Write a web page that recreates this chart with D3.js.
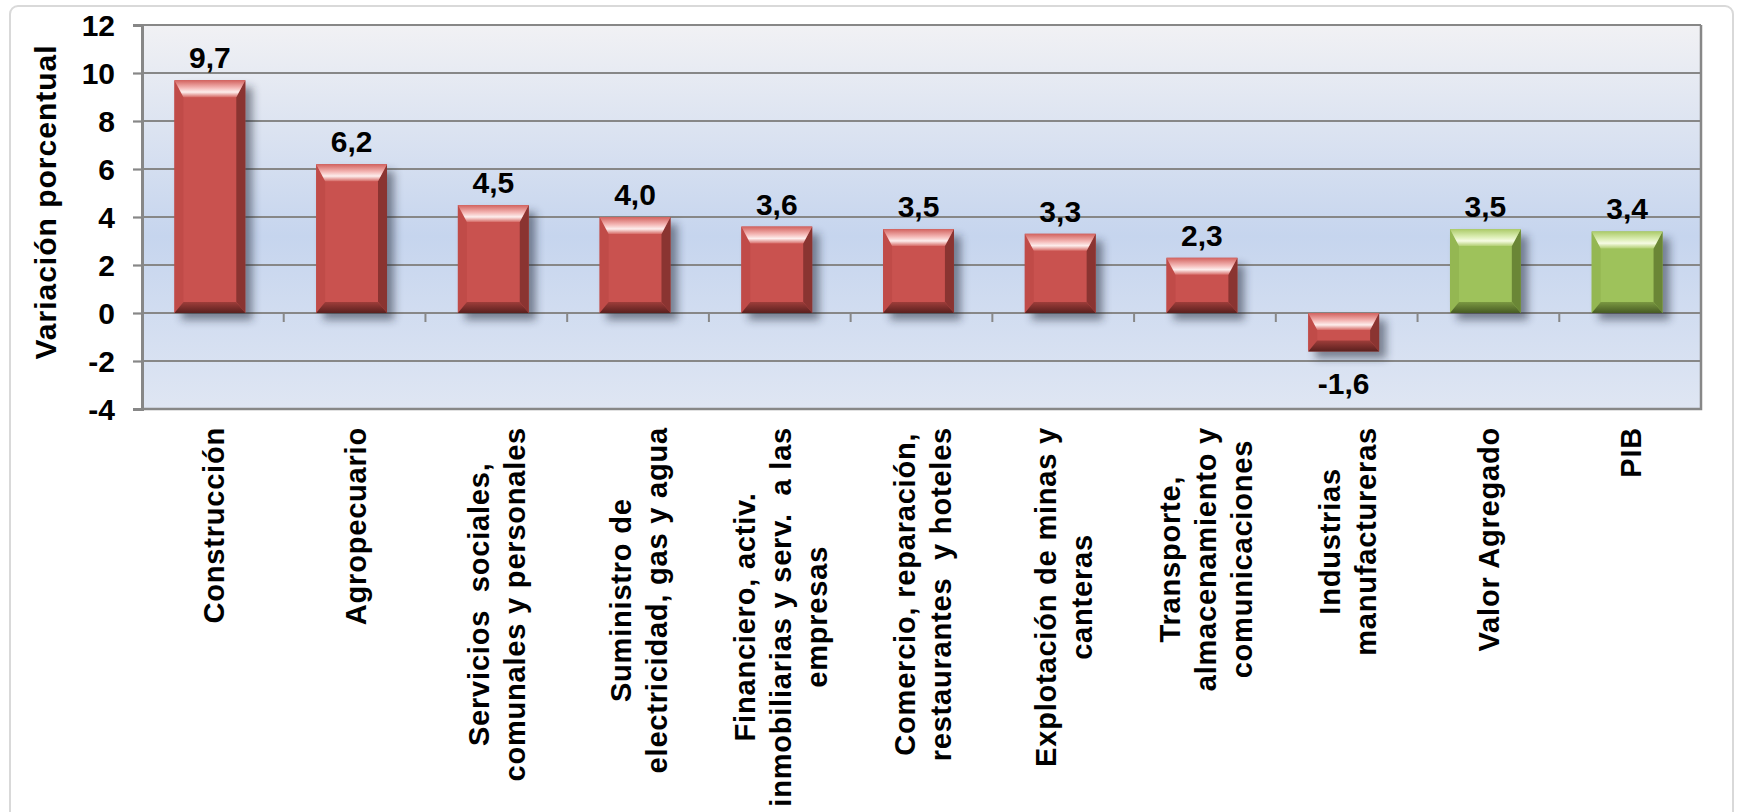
<!DOCTYPE html>
<html>
<head>
<meta charset="utf-8">
<script src="https://cdn.jsdelivr.net/npm/d3@7"></script>
<style>
  html, body { margin: 0; padding: 0; background: #fff; }
  svg { display: block; font-family: "Liberation Sans", Arial, sans-serif; }
</style>
</head>
<body>
<div id="chart"></div>
<script>
const categories = [
  'Construcción', 'Agropecuario', 'Servicios', 'Suministro', 'Financiero',
  'Comercio', 'Explotación', 'Transporte', 'Industrias', 'Valor Agregado', 'PIB'
];

const labelLines = [
  ['Construcción'],
  ['Agropecuario'],
  ['Servicios  sociales,', 'comunales y personales'],
  ['Suministro de', 'electricidad, gas y agua'],
  ['Financiero, activ.', 'inmobiliarias y serv.  a las', 'empresas'],
  ['Comercio, reparación,', 'restaurantes  y hoteles'],
  ['Explotación de minas y', 'canteras'],
  ['Transporte,', 'almacenamiento y', 'comunicaciones'],
  ['Industrias', 'manufactureras'],
  ['Valor Agregado'],
  ['PIB']
];

const values = [9.7, 6.2, 4.5, 4.0, 3.6, 3.5, 3.3, 2.3, -1.6, 3.5, 3.4];

// sector bars are red, the two totals green
const kinds = ['sector', 'sector', 'sector', 'sector', 'sector', 'sector',
  'sector', 'sector', 'sector', 'total', 'total'];

const yTicks = [-4, -2, 0, 2, 4, 6, 8, 10, 12];

const W = 1738, H = 812;
const plot = { left: 142, right: 1701, top: 25, bottom: 409 };

const PALETTE = {
  sector: { base: '#c9524f', left: '#c04b48', right: '#8a3431',
    top: ['#d2625e', '#f4b8b6', '#fdeeed', '#d66a66'], bottom: ['#9e3d3a', '#5a201e'] },
  total: { base: '#9ec25b', left: '#94b752', right: '#6a8636',
    top: ['#abca68', '#dbedb3', '#f6fbe3', '#b2cf73'], bottom: ['#7a9841', '#475b23'] }
};

const svg = d3.select('#chart').append('svg')
  .attr('width', W)
  .attr('height', H);

const defs = svg.append('defs');

const bg = defs.append('linearGradient')
  .attr('id', 'plotBg')
  .attr('x1', 0).attr('y1', 0).attr('x2', 0).attr('y2', 1);
[[0, '#f1f1f4'], [0.55, '#c6d5ee'], [1, '#dfe6f3']].forEach(([o, c]) =>
  bg.append('stop').attr('offset', o).attr('stop-color', c));

Object.entries(PALETTE).forEach(([k, p]) => {
  const top = defs.append('linearGradient').attr('id', `top-${k}`)
    .attr('x1', 0).attr('y1', 0).attr('x2', 0).attr('y2', 1);
  [0, 0.45, 0.7, 1].forEach((o, i) =>
    top.append('stop').attr('offset', o).attr('stop-color', p.top[i]));
  const bot = defs.append('linearGradient').attr('id', `bottom-${k}`)
    .attr('x1', 0).attr('y1', 0).attr('x2', 0).attr('y2', 1);
  [0, 1].forEach((o, i) =>
    bot.append('stop').attr('offset', o).attr('stop-color', p.bottom[i]));
});

defs.append('filter')
  .attr('id', 'blur')
  .attr('x', '-30%').attr('y', '-30%').attr('width', '160%').attr('height', '160%')
  .append('feGaussianBlur')
  .attr('stdDeviation', 4);

// outer chart frame
svg.append('rect')
  .attr('x', 10).attr('y', 6)
  .attr('width', 1723).attr('height', 900)
  .attr('rx', 8)
  .attr('fill', '#fff')
  .attr('stroke', '#d9d9d9')
  .attr('stroke-width', 2);

const x = d3.scaleBand()
  .domain(categories)
  .range([plot.left, plot.right])
  .paddingInner(0.5)
  .paddingOuter(0.25);

const y = d3.scaleLinear()
  .domain([-4, 12])
  .range([plot.bottom, plot.top]);

svg.append('rect')
  .attr('x', plot.left).attr('y', plot.top)
  .attr('width', plot.right - plot.left)
  .attr('height', plot.bottom - plot.top)
  .attr('fill', 'url(#plotBg)');

// gridlines
svg.append('g')
  .selectAll('line')
  .data(yTicks)
  .join('line')
  .attr('x1', plot.left).attr('x2', plot.right)
  .attr('y1', d => y(d)).attr('y2', d => y(d))
  .attr('stroke', '#878787')
  .attr('stroke-width', 2.2);

// right and bottom border
svg.append('path')
  .attr('d', `M${plot.right},${plot.top}V${plot.bottom}H${plot.left}`)
  .attr('fill', 'none')
  .attr('stroke', '#878787')
  .attr('stroke-width', 2.5);

// category ticks on the zero line
const gap = x.step() - x.bandwidth();
const bounds = categories.map(c => x(c) - gap / 2).concat([plot.right]);
svg.append('g')
  .selectAll('line')
  .data(bounds)
  .join('line')
  .attr('x1', d => d).attr('x2', d => d)
  .attr('y1', y(0)).attr('y2', y(0) + 9)
  .attr('stroke', '#878787')
  .attr('stroke-width', 2);

// y axis
const yAxis = svg.append('g')
  .attr('transform', `translate(${plot.left},0)`)
  .call(d3.axisLeft(y).tickValues(yTicks).tickSize(9).tickPadding(18)
    .tickFormat(d => String(d)));
yAxis.select('.domain').attr('stroke', '#878787').attr('stroke-width', 3);
yAxis.selectAll('.tick line').attr('stroke', '#878787').attr('stroke-width', 2.2);
yAxis.selectAll('.tick text')
  .attr('fill', '#000')
  .attr('font-family', '"Liberation Sans", Arial, sans-serif')
  .attr('font-size', 30)
  .attr('font-weight', 'bold')
  .attr('dy', '0.36em');

svg.append('text')
  .attr('transform', `translate(56,${(44 + 360) / 2}) rotate(-90)`)
  .attr('text-anchor', 'middle')
  .attr('font-size', 30)
  .attr('font-weight', 'bold')
  .attr('letter-spacing', 1)
  .text('Variación porcentual');

// bars
const bars = categories.map((c, i) => {
  const v = values[i];
  const x0 = x(c) - 3;
  const x1 = x0 + x.bandwidth();
  const yT = y(Math.max(0, v));
  const yB = y(Math.min(0, v));
  return { c, v, kind: kinds[i], x0, x1, yT, yB };
});

const poly = pts => 'M' + pts.map(p => p.join(',')).join('L') + 'Z';

const barG = svg.append('g')
  .selectAll('g')
  .data(bars)
  .join('g');

barG.append('rect')
  .attr('x', d => d.x0 + 7).attr('y', d => d.yT + 7)
  .attr('width', d => d.x1 - d.x0)
  .attr('height', d => d.yB - d.yT)
  .attr('fill', '#1a2030')
  .attr('opacity', 0.5)
  .attr('filter', 'url(#blur)');

barG.append('rect')
  .attr('x', d => d.x0).attr('y', d => d.yT)
  .attr('width', d => d.x1 - d.x0)
  .attr('height', d => d.yB - d.yT)
  .attr('fill', d => PALETTE[d.kind].base);

const bs = 9, bt = 17, bb = 11;

barG.append('path')
  .attr('d', d => poly([[d.x0, d.yT], [d.x0 + bs, d.yT + bt], [d.x0 + bs, d.yB - bb], [d.x0, d.yB]]))
  .attr('fill', d => PALETTE[d.kind].left);

barG.append('path')
  .attr('d', d => poly([[d.x1, d.yT], [d.x1 - bs, d.yT + bt], [d.x1 - bs, d.yB - bb], [d.x1, d.yB]]))
  .attr('fill', d => PALETTE[d.kind].right);

barG.append('path')
  .attr('d', d => poly([[d.x0, d.yB], [d.x1, d.yB], [d.x1 - bs, d.yB - bb], [d.x0 + bs, d.yB - bb]]))
  .attr('fill', d => `url(#bottom-${d.kind})`);

barG.append('path')
  .attr('d', d => poly([[d.x0, d.yT], [d.x1, d.yT], [d.x1 - bs, d.yT + bt], [d.x0 + bs, d.yT + bt]]))
  .attr('fill', d => `url(#top-${d.kind})`);

// value labels, decimal comma and a plain hyphen for negatives
const fmt = d3.format('.1f');
svg.append('g')
  .selectAll('text')
  .data(bars)
  .join('text')
  .attr('x', d => (d.x0 + d.x1) / 2)
  .attr('y', d => d.v >= 0 ? d.yT - 12 : d.yB + 43)
  .attr('text-anchor', 'middle')
  .attr('font-size', 30)
  .attr('font-weight', 'bold')
  .text(d => fmt(d.v).replace('.', ',').replace('\u2212', '-'));

// category labels, rotated, lines centred, block hanging from the axis
const lineGap = 36;
const labelTop = 427;
const labels = svg.append('g')
  .selectAll('g')
  .data(categories)
  .join('g');

labels.each(function (c, i) {
  const g = d3.select(this);
  const lines = labelLines[i];
  const texts = g.selectAll('text')
    .data(lines)
    .join('text')
    .attr('x', 0)
    .attr('y', (l, j) => (j - (lines.length - 1) / 2) * lineGap + 11)
    .attr('text-anchor', 'middle')
    .attr('font-size', 29)
    .attr('font-weight', 'bold')
    .attr('letter-spacing', 0.8)
    .style('white-space', 'pre')
    .text(l => l);
  let maxLen = 0;
  texts.each(function () { maxLen = Math.max(maxLen, this.getComputedTextLength()); });
  const cx = x(c) + x.bandwidth() / 2;
  g.attr('transform', `translate(${cx},${labelTop + maxLen / 2}) rotate(-90)`);
});
</script>
</body>
</html>
